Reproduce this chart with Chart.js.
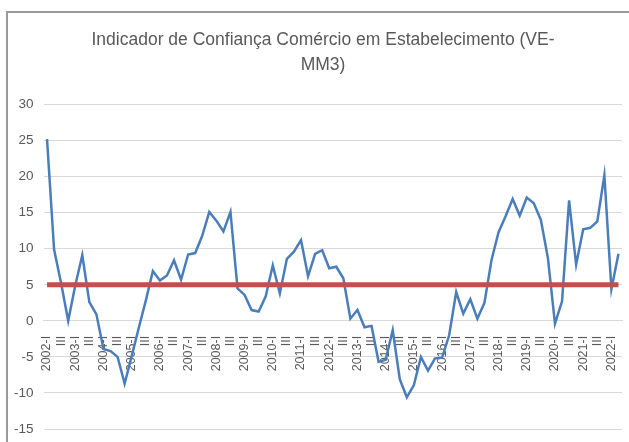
<!DOCTYPE html>
<html>
<head>
<meta charset="utf-8">
<script src="https://cdn.jsdelivr.net/npm/chart.js@4/dist/chart.umd.min.js"></script>
<style>
    html, body { margin: 0; padding: 0; background: #fff; }
    #wrap { position: relative; width: 629px; height: 442px; overflow: hidden; }
    #frame { position: absolute; left: 6px; top: 11px; width: 700px; height: 500px;
             border-left: 2px solid #9a9a9a; border-top: 2px solid #9a9a9a; }
    canvas { position: absolute; left: 0; top: 0; }
</style>
</head>
<body>
<div id="wrap">
    <div id="frame"></div>
    <canvas id="chart" width="629" height="442"></canvas>
</div>
<script>
"use strict";

const quarters = ["I", "II", "III", "IV"];
const years = [2002, 2003, 2004, 2005, 2006, 2007, 2008, 2009, 2010, 2011,
    2012, 2013, 2014, 2015, 2016, 2017, 2018, 2019, 2020, 2021, 2022];

// 2002-I .. 2022-II
const confidence = [
    25.2, 9.9, 5.2, 0.0,
    4.9, 9.1, 2.6, 0.9,
    -3.9, -4.2, -5.0, -8.7,
    -4.9, -1.0, 2.8, 6.9,
    5.6, 6.3, 8.4, 5.7,
    9.2, 9.4, 11.8, 15.1,
    13.9, 12.4, 15.1, 4.5,
    3.6, 1.5, 1.3, 3.4,
    7.7, 3.8, 8.6, 9.6,
    11.2, 6.2, 9.3, 9.8,
    7.3, 7.5, 5.9, 0.3,
    1.5, -0.9, -0.7, -5.7,
    -5.4, -1.3, -8.1, -10.6,
    -8.9, -5.0, -6.9, -5.2,
    -5.1, -2.0, 4.0, 1.0,
    3.0, 0.3, 2.5, 8.4,
    12.3, 14.5, 16.9, 14.6,
    17.1, 16.3, 14.0, 8.7,
    -0.4, 2.7, 16.7, 7.8,
    12.7, 12.9, 13.8, 20.2,
    4.4, 9.3
];
const reference = confidence.map(() => 5);

const yTicks = { min: -15, max: 30, step: 5 };

const labels = [];
years.forEach((year) => {
    quarters.forEach((q, i) => {
        if (labels.length < confidence.length) labels.push(i === 0 ? `${year}-${q}` : q);
    });
});

const fontFamily = "'Liberation Sans', Arial, sans-serif";
const textColor = "#595959";
const gridColor = "#d9d9d9";

// let the y labels run left of the (narrow) y axis box without being clipped
const unclipY = {
    id: "unclipY",
    afterLayout: (chart) => {
        chart.scales.y.left = 0;
    }
};

const noPadding = (scale) => {
    scale.paddingLeft = 0;
    scale.paddingRight = 0;
    scale.paddingTop = 0;
    scale.paddingBottom = 0;
};

const ctx = document.getElementById("chart").getContext("2d");
new Chart(ctx, {
    type: "line",
    data: {
        labels: labels,
        datasets: [
            {
                label: "Referência",
                data: reference,
                borderColor: "#c0504d",
                borderWidth: 5,
                pointRadius: 0,
                tension: 0
            },
            {
                label: "VE-MM3",
                data: confidence,
                borderColor: "#4a7ebb",
                borderWidth: 2.5,
                pointRadius: 0,
                tension: 0
            }
        ]
    },
    options: {
        responsive: false,
        animation: false,
        layout: { padding: { left: 24, right: 7, top: 0, bottom: 13 } },
        plugins: {
            legend: { display: false },
            tooltip: { enabled: false },
            title: {
                display: true,
                text: ["Indicador de Confiança Comércio em Estabelecimento (VE-", "MM3)"],
                color: textColor,
                font: { family: fontFamily, size: 17.5, weight: "normal", lineHeight: 1.43 },
                padding: { top: 27.5, bottom: 27 }
            }
        },
        scales: {
            x: {
                type: "category",
                position: { y: 0 },
                offset: true,
                grid: { display: false, drawTicks: false },
                border: { display: true, color: gridColor, width: 1 },
                ticks: {
                    autoSkip: false,
                    minRotation: 90,
                    maxRotation: 90,
                    padding: 15,
                    color: textColor,
                    font: { family: fontFamily, size: 12.5 },
                    callback: function (value, index) {
                        return index % 2 === 0 ? this.getLabelForValue(value) : "";
                    }
                },
                afterFit: (scale) => {
                    scale.height = 0;
                    noPadding(scale);
                }
            },
            y: {
                min: yTicks.min,
                max: yTicks.max,
                grid: { color: gridColor, drawTicks: false },
                border: { display: false },
                ticks: {
                    stepSize: yTicks.step,
                    padding: 10,
                    color: textColor,
                    font: { family: fontFamily, size: 13.5 }
                },
                afterFit: (scale) => {
                    scale.width = 19.5;
                    noPadding(scale);
                }
            }
        }
    },
    plugins: [unclipY]
});
</script>
</body>
</html>
